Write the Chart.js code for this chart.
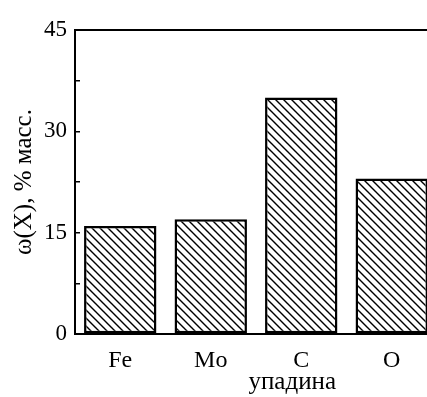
<!DOCTYPE html>
<html>
<head>
<meta charset="utf-8">
<script src="https://cdn.jsdelivr.net/npm/chart.js@4.4.1/dist/chart.umd.min.js"></script>
<style>
  html, body { margin: 0; padding: 0; background: #fff; overflow: hidden; }
  #wrap { width: 427px; height: 397px; overflow: hidden; position: relative; }
  canvas { display: block; }
</style>
</head>
<body>
<div id="wrap"><canvas id="c" width="440" height="397"></canvas></div>
<script>
const categories = ['Fe', 'Mo', 'C', 'O'];
const values = [16, 17, 35, 23];
const yTickStep = 7.5;
const yLabelStep = 15;
const xTitle = 'упадина';
const yTitle = 'ω(X), % масс.';

function makeHatch() {
  const s = 8;
  const c = document.createElement('canvas');
  c.width = s; c.height = s;
  const g = c.getContext('2d');
  g.fillStyle = '#fff';
  g.fillRect(0, 0, s, s);
  g.strokeStyle = '#000';
  g.lineWidth = 1.4;
  g.beginPath();
  g.moveTo(-1, -1); g.lineTo(s + 1, s + 1);
  g.moveTo(s - 2, -2); g.lineTo(s + 2, 2);
  g.moveTo(-2, s - 2); g.lineTo(2, s + 2);
  g.stroke();
  return g.createPattern(c, 'repeat');
}

const FONT = "'Liberation Serif', 'Times New Roman', serif";

const xTitlePlugin = {
  id: 'xTitlePlugin',
  afterDraw(chart) {
    const x = chart.scales.x;
    const ctx = chart.ctx;
    ctx.save();
    ctx.font = '25px ' + FONT;
    ctx.fillStyle = '#000';
    ctx.textAlign = 'center';
    ctx.textBaseline = 'alphabetic';
    const cx = x.getPixelForValue(2) - 9;
    ctx.fillText(xTitle, cx, chart.chartArea.bottom + 55);
    ctx.restore();
  }
};

new Chart(document.getElementById('c'), {
  type: 'bar',
  data: {
    labels: categories,
    datasets: [{
      data: values,
      backgroundColor: makeHatch(),
      borderColor: '#000',
      borderWidth: 2.5,
      borderSkipped: false,
      barPercentage: 0.8,
      categoryPercentage: 1.0
    }]
  },
  options: {
    responsive: false,
    animation: false,
    layout: { padding: { top: 30, right: 3, left: 0, bottom: 0 } },
    plugins: { legend: { display: false }, tooltip: { enabled: false } },
    scales: {
      x: {
        position: 'bottom',
        grid: { display: false },
        border: { display: true, color: '#000', width: 2 },
        ticks: { color: '#000', font: { family: FONT, size: 24 }, padding: 4, maxRotation: 0 },
        afterFit(s) { s.height = 63; }
      },
      x2: {
        position: 'top',
        type: 'category',
        labels: categories,
        grid: { display: false },
        border: { display: true, color: '#000', width: 2 },
        ticks: { display: false },
        afterFit(s) { s.height = 0; }
      },
      y: {
        min: 0,
        max: 45,
        grid: { display: true, drawOnChartArea: false, drawTicks: true, tickLength: -5, color: '#000', lineWidth: 1.5 },
        border: { display: true, color: '#000', width: 2 },
        ticks: {
          stepSize: yTickStep,
          color: '#000',
          padding: 13,
          font: { family: FONT, size: 23 },
          callback: (v) => (Math.abs(v % yLabelStep) < 1e-6 ? String(v) : '')
        },
        title: { display: true, text: yTitle, color: '#000', font: { family: FONT, size: 25 }, padding: { top: 9, bottom: 0 } },
        afterFit(s) { s.width = 75; }
      }
    }
  },
  plugins: [xTitlePlugin]
});
</script>
</body>
</html>
